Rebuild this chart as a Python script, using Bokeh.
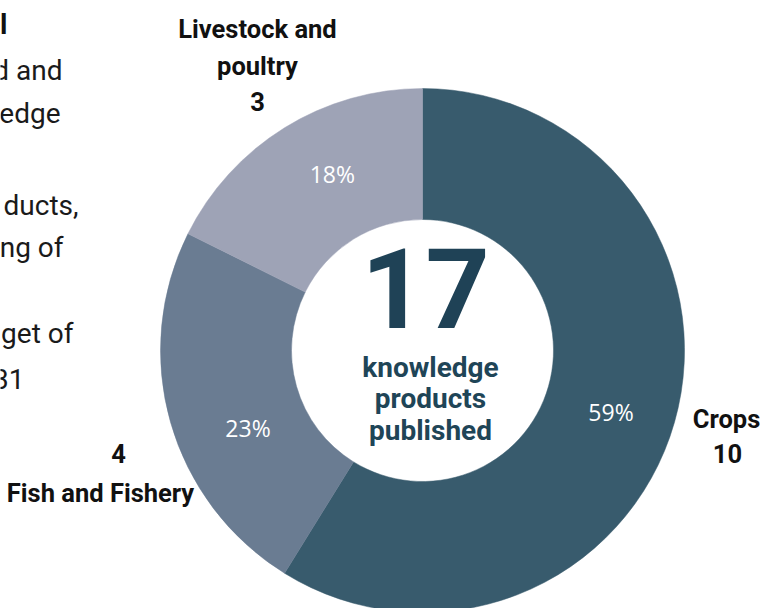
import math
from bokeh.plotting import figure
from bokeh.models import Range1d, ColumnDataSource
from bokeh.core.properties import value
from bokeh.embed import file_html
from bokeh.resources import INLINE

# ---- data ----
categories = ["Crops", "Fish and Fishery", "Livestock and poultry"]
counts = [10, 4, 3]
pct_labels = ["59%", "23%", "18%"]
colors = ["#385b6d", "#6a7c92", "#9ea3b6"]
total = sum(counts)

p = figure(width=761, height=608, output_backend="svg", toolbar_location=None,
           x_range=Range1d(-422, 339), y_range=Range1d(-258, 350),
           min_border=0, outline_line_color=None)
p.axis.visible = False
p.grid.visible = False
p.background_fill_color = "white"
p.border_fill_color = "white"

# wedges, clockwise from 12 o'clock
starts, ends, mids = [], [], []
cum = 0.0
for c in counts:
    a0 = math.pi / 2 - 2 * math.pi * cum / total
    cum += c
    a1 = math.pi / 2 - 2 * math.pi * cum / total
    starts.append(a0)
    ends.append(a1)
    mids.append((a0 + a1) / 2)

src = ColumnDataSource(dict(start=starts, end=ends, color=colors))
p.annular_wedge(x=0, y=0, inner_radius=131, outer_radius=262,
                start_angle="start", end_angle="end", direction="clock",
                fill_color="color", line_color="color", line_width=0.5, source=src)

# percent labels
r_lab = 196
offs = [(0, 8), (14, 24), (13, -10)]
for lab, m, (dx, dy) in zip(pct_labels, mids, offs):
    p.text(x=[r_lab * math.cos(m)], y=[r_lab * math.sin(m)], text=[lab],
           x_offset=dx, y_offset=dy,
           text_color="white", text_font=value("Open Sans"), text_font_size="23px",
           text_align="center", text_baseline="middle")

# category labels
def lbl(x, y, t, size="25.5px", style="bold", color="#111111", align="center", font="Roboto"):
    p.text(x=[x], y=[y], text=[t], text_color=color, text_font=value(font),
           text_font_size=size, text_font_style=style,
           text_align=align, text_baseline="middle")

lbl(-165, 322, "Livestock and")
lbl(-165, 285, "poultry")
lbl(-165, 249, str(counts[2]))
lbl(304, -68, "Crops")
lbl(305, -103, str(counts[0]))
lbl(-304, -103, str(counts[1]))
lbl(-322, -142, "Fish and Fishery")

# center text
p.text(x=[3], y=[63], text=[str(total)], text_color="#1f4256",
       text_font=value("Roboto"),
       text_font_size="112px", text_font_style="bold",
       text_align="center", text_baseline="middle")
for yy, t in zip([-17, -48, -80], ["knowledge", "products", "published"]):
    lbl(8, yy, t, size="28px", color="#1f4557")

# cut-off paragraph on the left
lbl(-415, 326, "l", size="28px", color="#111111", align="right")
frag = ["d and", "edge", "ducts,", "ng of", "get of", "31"]
frag_x = [-360, -362, -344, -359, -349, -398]
frag_y = [280, 237, 145, 103, 17, -28]
for t, xx, yy in zip(frag, frag_x, frag_y):
    lbl(xx, yy, t, size="28px", style="normal", color="#1a1a1a", align="right")

open("out.html", "w").write(file_html(p, INLINE))
